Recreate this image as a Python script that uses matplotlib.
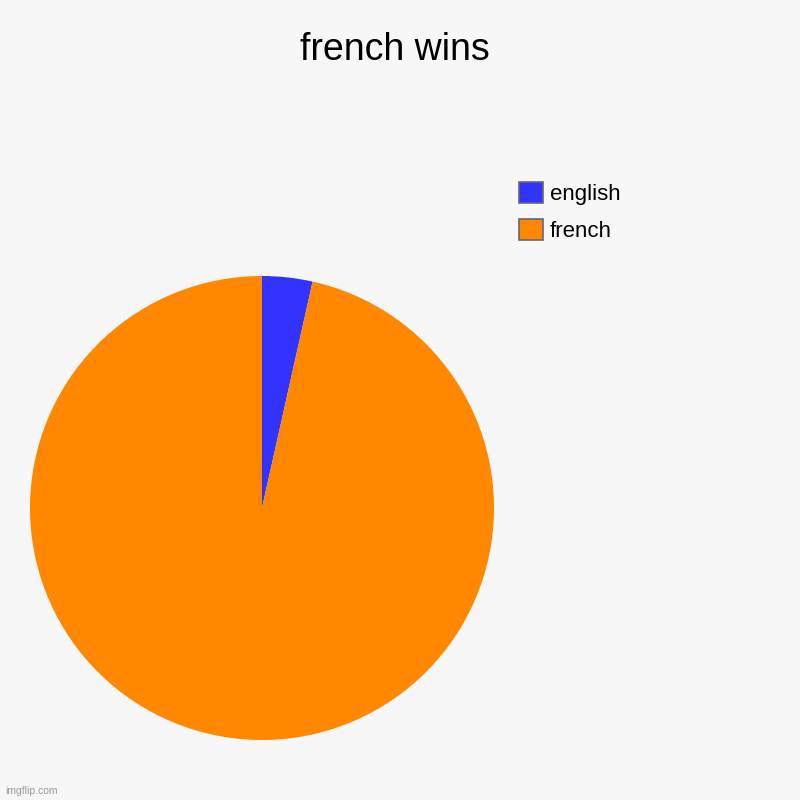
import matplotlib.pyplot as plt
from matplotlib.patches import Patch

plt.rcParams['font.family'] = ['Liberation Sans', 'DejaVu Sans']

labels = ['english', 'french']
values = [3.5, 96.5]
colors = ['#3333ff', '#ff8800']

fig = plt.figure(figsize=(8, 8), dpi=100, facecolor='#f7f7f7')
ax = fig.add_axes([0.0375, 0.075, 0.58, 0.58])
ax.set_facecolor('#f7f7f7')
ax.pie(values, colors=colors, startangle=90, counterclock=False,
       wedgeprops=dict(linewidth=0))
ax.set_xlim(-1, 1)
ax.set_ylim(-1, 1)
ax.set_aspect('equal')

fig.text(0.494, 0.937, 'french wins', ha='center', va='center', fontsize=27)

handles = [Patch(facecolor=c, edgecolor='#666677', linewidth=1.2) for c in colors]
fig.legend(handles, labels, loc='upper left', bbox_to_anchor=(0.638, 0.784),
           frameon=False, fontsize=16, handlelength=1.08, handleheight=1.08,
           handletextpad=0.3, labelspacing=0.65, borderaxespad=0)

fig.text(0.006, 0.005, 'imgflip.com', fontsize=7.5, color='#999999',
         ha='left', va='bottom')

fig.savefig('out.png', dpi=100, facecolor=fig.get_facecolor())
